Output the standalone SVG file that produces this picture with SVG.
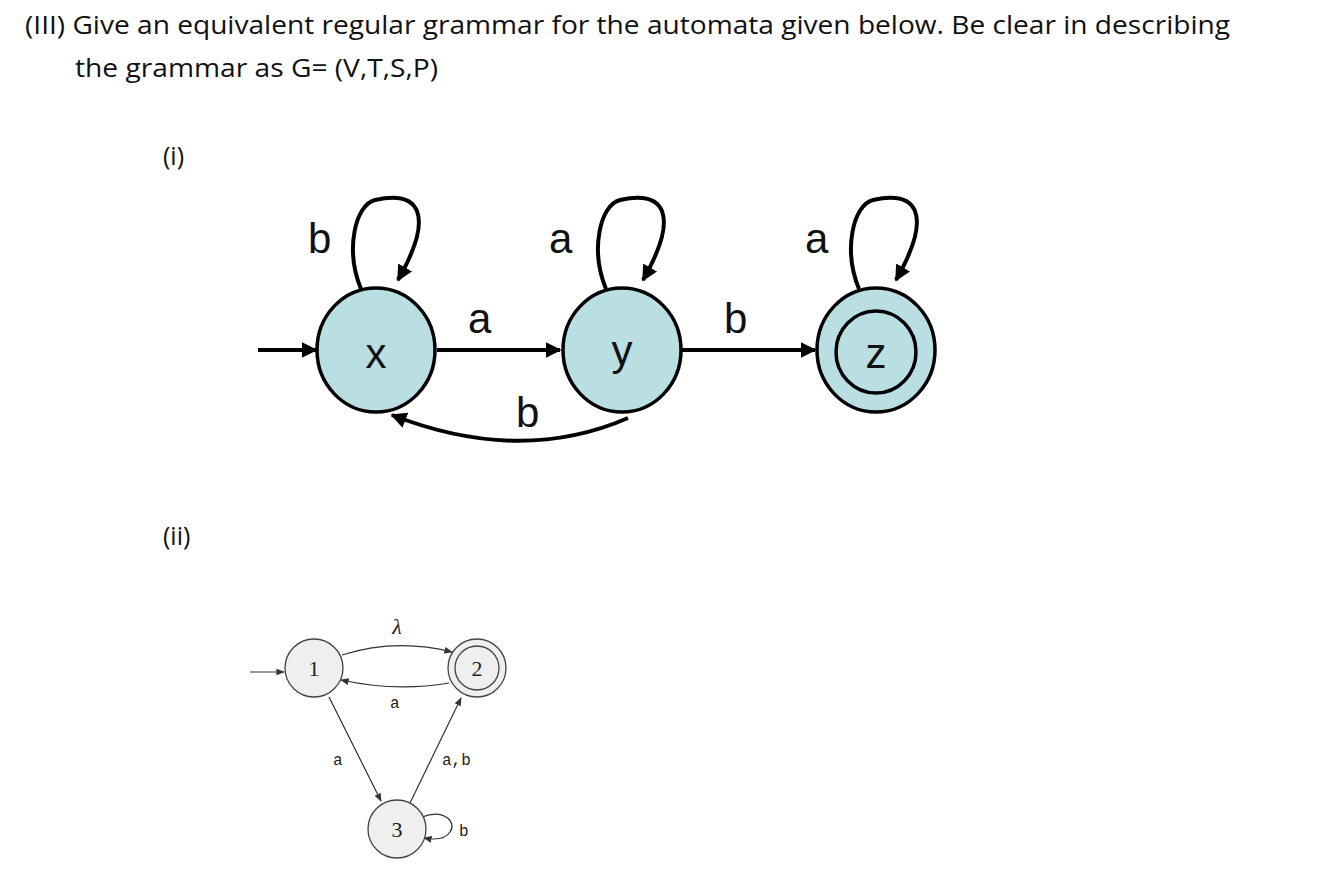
<svg xmlns="http://www.w3.org/2000/svg" width="1334" height="872" viewBox="0 0 1334 872">
<style>
.t{font-family:"Open Sans","Liberation Sans",sans-serif;font-size:25px;fill:#111}
.big{fill:#b9dfe3;stroke:#000;stroke-width:3.5}
.bl{font-family:"Liberation Sans",Arial,sans-serif;font-size:42px;fill:#111}
.bc{stroke:#000;stroke-width:4;fill:none}
.sm{fill:#efefef;stroke:#444;stroke-width:1.3}
.sc{stroke:#333;stroke-width:1.2;fill:none}
.sl{font-family:"Liberation Mono",monospace;font-size:16px;fill:#222}
.sn{font-family:"Liberation Serif",serif;font-size:22px;fill:#222}
</style>
<defs>
<marker id="A" viewBox="0 0 10 10" refX="9" refY="5" markerWidth="4" markerHeight="4" orient="auto"><path d="M0,0L10,5L0,10z" fill="#000"/></marker>
<marker id="a" viewBox="0 0 10 10" refX="9" refY="5" markerWidth="7" markerHeight="7" orient="auto"><path d="M0,1L10,5L0,9z" fill="#333"/></marker>
</defs>
<rect width="1334" height="872" fill="#fff"/>
<text class="t" x="25" y="34" textLength="1205" lengthAdjust="spacingAndGlyphs">(III) Give an equivalent regular grammar for the automata given below. Be clear in describing</text>
<text class="t" x="75" y="77" textLength="363" lengthAdjust="spacingAndGlyphs">the grammar as G= (V,T,S,P)</text>
<text class="t" x="163" y="165">(i)</text>
<text class="t" x="163" y="545">(ii)</text>
<g id="connectors">
<path class="bc" d="M258,350H316" marker-end="url(#A)"/>
<path class="bc" d="M437,350H560" marker-end="url(#A)"/>
<path class="bc" d="M682,350H815" marker-end="url(#A)"/>
<path class="bc" d="M628,418Q520,465 392,415" marker-end="url(#A)"/>
<path class="bc" d="M361,289C345,250 355,205 375,200C420,190 435,215 398,280" marker-end="url(#A)"/>
<path class="bc" d="M606,289C590,250 600,205 620,200C665,190 680,215 643,280" marker-end="url(#A)"/>
<path class="bc" d="M859,289C843,250 853,205 873,200C918,190 933,215 896,280" marker-end="url(#A)"/>
<path class="sc" d="M250,672H284" marker-end="url(#a)"/>
<path class="sc" d="M342,655Q396,638 452,652" marker-end="url(#a)"/>
<path class="sc" d="M449,683Q396,692 341,680" marker-end="url(#a)"/>
<path class="sc" d="M329,697L381,801" marker-end="url(#a)"/>
<path class="sc" d="M410,803L461,698" marker-end="url(#a)"/>
<path class="sc" d="M422,817C445,808 457,823 450,832C445,840 435,840 424,838" marker-end="url(#a)"/>
</g>
<g class="bl">
<text x="308" y="253">b</text><text x="549" y="253">a</text><text x="805" y="253">a</text>
<text x="468" y="333">a</text><text x="724" y="333">b</text><text x="516" y="427">b</text>
</g>
<g id="nx"><ellipse class="big" cx="376" cy="350" rx="59" ry="62"/><text class="bl" x="376" y="368" text-anchor="middle" font-size="46">x</text></g>
<g id="ny"><ellipse class="big" cx="622" cy="350" rx="59" ry="62"/><text class="bl" x="622" y="365" text-anchor="middle" font-size="46">y</text></g>
<g id="nz"><ellipse class="big" cx="876" cy="350" rx="59" ry="62"/><ellipse cx="876" cy="352" rx="40" ry="41" fill="none" stroke="#000" stroke-width="3.5"/><text class="bl" x="876" y="368" text-anchor="middle" font-size="46">z</text></g>
<g id="n1"><circle class="sm" cx="314" cy="668" r="29"/><text class="sn" x="314" y="676" text-anchor="middle">1</text></g>
<g id="n2"><circle class="sm" cx="477" cy="668" r="29"/><circle cx="477" cy="668" r="22" fill="none" stroke="#444" stroke-width="1.3"/><text class="sn" x="477" y="676" text-anchor="middle">2</text></g>
<g id="n3"><circle class="sm" cx="397" cy="829" r="29"/><text class="sn" x="397" y="837" text-anchor="middle">3</text></g>
<text class="sn" x="397" y="634" text-anchor="middle" font-style="italic" font-size="26">λ</text>
<g class="sl"><text x="390" y="708">a</text><text x="333" y="765">a</text><text x="442" y="765">a,b</text><text x="459" y="836">b</text></g>
</svg>
